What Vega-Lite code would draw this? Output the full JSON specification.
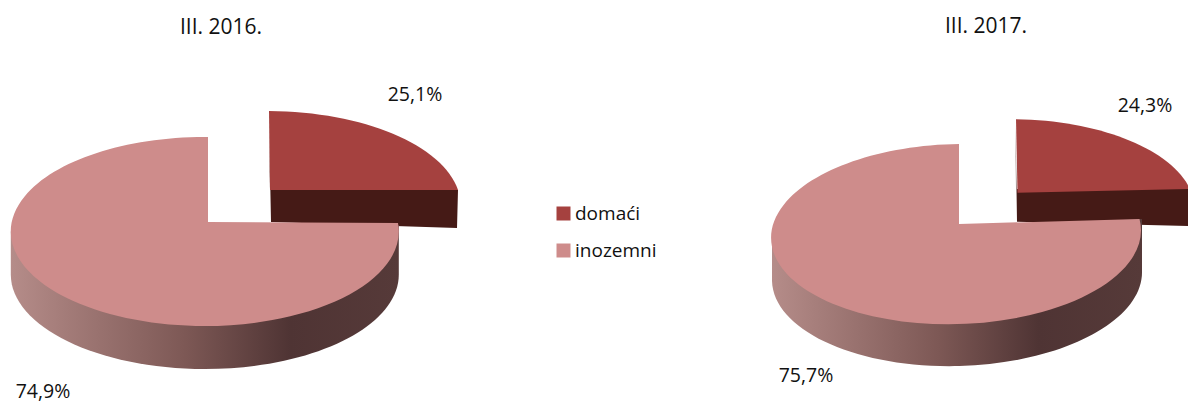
{
"$schema":"https://vega.github.io/schema/vega-lite/v6.json",
"width":1188,"height":403,"padding":0,"autosize":{"type":"none"},
"background":"white",
"config":{"view":{"stroke":null},"font":"Open Sans"},
"data":{"values":[
{"period":"III. 2016.","year":2016,"type":"domaći","share":25.1,"label":"25,1%"},
{"period":"III. 2016.","year":2016,"type":"inozemni","share":74.9,"label":"74,9%"},
{"period":"III. 2017.","year":2017,"type":"domaći","share":24.3,"label":"24,3%"},
{"period":"III. 2017.","year":2017,"type":"inozemni","share":75.7,"label":"75,7%"}
]},
"encoding":{
"x":{"field":"year","type":"quantitative","axis":null,"scale":{"domain":[2016,2017],"range":[208,959],"nice":false,"zero":false}},
"y":{"field":"year","type":"quantitative","axis":null,"scale":{"domain":[2016,2017],"range":[222,224],"nice":false,"zero":false}}
},
"layer":[
{"transform":[{"filter":"datum.type==='domaći'"}],
 "mark":{"type":"point","filled":true,"size":4,"opacity":1,"strokeWidth":0,"fill":"#451a16"},
 "encoding":{"shape":{"field":"year","type":"nominal","legend":null,"scale":{"domain":[2016,2017],"range":["M61 -100L63 0L249 6L250 -32L62 -32Z","M56.5 -100L58 -2.3L231 2L231 -35L57 -35Z"]}}}},
{"transform":[{"filter":"datum.type==='domaći'"}],
 "mark":{"type":"point","filled":true,"size":4,"opacity":1,"strokeWidth":0},
 "encoding":{
  "color":{"field":"type","type":"nominal","scale":{"domain":["domaći","inozemni"],"range":["#a5413f","#ce8c8b"]},
   "legend":{"title":null,"orient":"none","legendX":554,"legendY":204,"symbolType":"square","symbolSize":196,"symbolStrokeWidth":0,"symbolOpacity":1,"labelFontSize":19,"labelFont":"Open Sans","labelColor":"#111111","rowPadding":17,"labelOffset":2,"padding":0}},
  "shape":{"field":"year","type":"nominal","legend":null,"scale":{"domain":[2016,2017],"range":["M62 -32L61 -111A194 94.5 0 0 1 250 -32Z","M58.5 -31.3L57 -104.7A184 90 0 0 1 231 -35Z"]}}}},
{"transform":[{"filter":"datum.type==='inozemni'"}],
 "mark":{"type":"point","filled":true,"size":4,"opacity":1,"strokeWidth":0,
  "fill":{"gradient":"linear","x1":0,"y1":0,"x2":1,"y2":0,"stops":[{"offset":0,"color":"#b58c89"},{"offset":0.45,"color":"#7d5855"},{"offset":0.72,"color":"#4f3434"},{"offset":1,"color":"#563a39"}]}},
 "encoding":{"shape":{"field":"year","type":"nominal","legend":null,"scale":{"domain":[2016,2017],"range":["M-197.2 9.5L-197.2 52.5A194 94.5 0 0 0 190.8 52.5L190.8 3Z","M-187 15L-187 57A185 90 -1.5 0 0 183 47L183 -5Z"]}}}},
{"transform":[{"filter":"datum.type==='inozemni'"}],
 "mark":{"type":"point","filled":true,"size":4,"opacity":1,"strokeWidth":0},
 "encoding":{
  "color":{"field":"type","type":"nominal"},
  "shape":{"field":"year","type":"nominal","legend":null,"scale":{"domain":[2016,2017],"range":["M0 0L0 -85A194 94.5 0 1 0 190 1Z","M0 0L0 -80A185 90 -1.5 1 0 180.5 -5Z"]}}}},
{"transform":[{"filter":"datum.type==='inozemni'"}],
 "mark":{"type":"text","fontSize":21,"font":"Open Sans","color":"#111111"},
 "encoding":{"text":{"field":"period"},
  "x":{"field":"year","type":"quantitative","axis":null,"scale":{"domain":[2016,2017],"range":[221,986],"nice":false,"zero":false}},
  "y":{"field":"year","type":"quantitative","axis":null,"scale":{"domain":[2016,2017],"range":[28,27],"nice":false,"zero":false}}}},
{"transform":[{"filter":"datum.type==='domaći'"}],
 "mark":{"type":"text","fontSize":19.5,"font":"Open Sans","color":"#111111"},
 "encoding":{"text":{"field":"label"},
  "x":{"field":"year","type":"quantitative","axis":null,"scale":{"domain":[2016,2017],"range":[415,1145],"nice":false,"zero":false}},
  "y":{"field":"year","type":"quantitative","axis":null,"scale":{"domain":[2016,2017],"range":[95,106],"nice":false,"zero":false}}}},
{"transform":[{"filter":"datum.type==='inozemni'"}],
 "mark":{"type":"text","fontSize":19.5,"font":"Open Sans","color":"#111111"},
 "encoding":{"text":{"field":"label"},
  "x":{"field":"year","type":"quantitative","axis":null,"scale":{"domain":[2016,2017],"range":[43,806],"nice":false,"zero":false}},
  "y":{"field":"year","type":"quantitative","axis":null,"scale":{"domain":[2016,2017],"range":[392,376],"nice":false,"zero":false}}}}
],
"resolve":{"scale":{"x":"independent","y":"independent","shape":"independent"}}
}
